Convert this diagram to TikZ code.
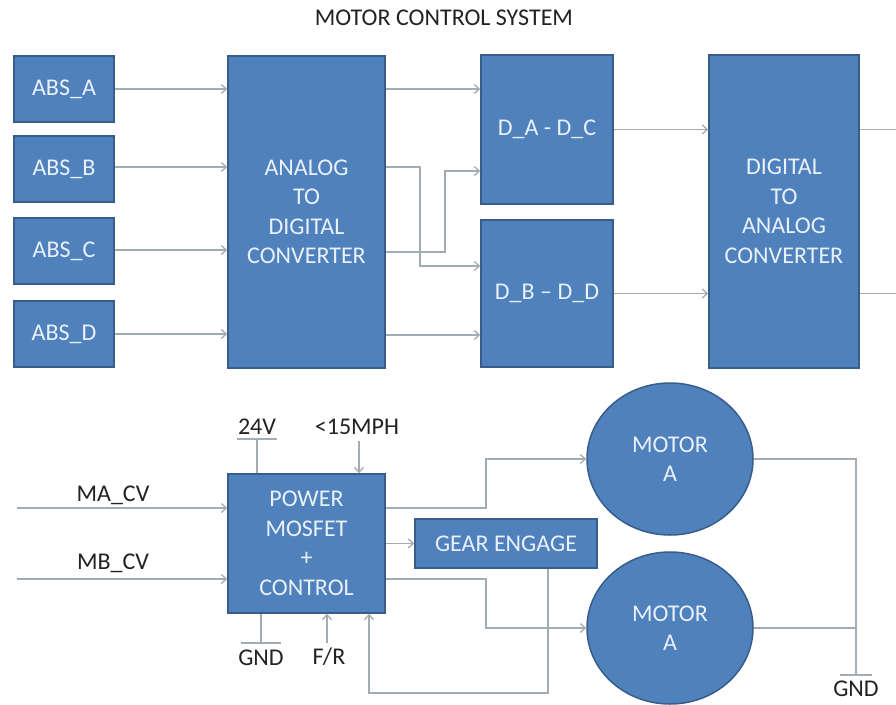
\documentclass[tikz,border=0pt]{standalone}
\usepackage{fontspec}
\setmainfont{Carlito}
\usetikzlibrary{arrows.meta,shapes.geometric}
\definecolor{boxfill}{HTML}{4F81BD}
\definecolor{boxline}{HTML}{385D8A}
\definecolor{boxtext}{HTML}{EAF1FB}
\definecolor{wire}{HTML}{A3ABB3}
\definecolor{labtext}{HTML}{222222}
\tikzset{
  blk/.style={draw=boxline, line width=1.5pt, fill=boxfill, text=boxtext, align=center,
    inner sep=0pt, font=\fontsize{24}{29.5}\selectfont},
  mot/.style={blk, ellipse, minimum width=166pt, minimum height=152pt},
  lab/.style={text=labtext, inner sep=0pt, font=\fontsize{24}{29}\selectfont},
  wireline/.style={draw=wire, line width=1.3pt},
  arr/.style={wireline, -{Straight Barb[length=5pt,width=9pt]}},
}
\begin{document}
\begin{tikzpicture}[x=1pt,y=-1pt]
\useasboundingbox[fill=white] (0,0) rectangle (896,704);
% title
\node[lab] (title) at (444,18) {MOTOR CONTROL SYSTEM};
% top row
\node[blk, minimum width=100pt, minimum height=66pt] (absA) at (64,89) {ABS\_A};
\node[blk, minimum width=100pt, minimum height=66pt] (absB) at (64,169) {ABS\_B};
\node[blk, minimum width=100pt, minimum height=66pt] (absC) at (64,251) {ABS\_C};
\node[blk, minimum width=100pt, minimum height=66pt] (absD) at (64,334) {ABS\_D};
\node[blk, minimum width=157pt, minimum height=312pt] (adc) at (306.5,212) {ANALOG\\TO\\DIGITAL\\CONVERTER};
\node[blk, minimum width=132pt, minimum height=149pt] (dac1) at (547,129.5) {D\_A - D\_C};
\node[blk, minimum width=132pt, minimum height=147pt] (dbd) at (547,293.5) {D\_B – D\_D};
\node[blk, minimum width=150pt, minimum height=313pt] (dac) at (784,211.5) {DIGITAL\\TO\\ANALOG\\CONVERTER};
% top connectors
\draw[arr] (absA.east) -- (absA.east -| adc.west);
\draw[arr] (absB.east |- 0,167) -- (adc.west |- 0,167);
\draw[arr] (absC.east |- 0,250) -- (adc.west |- 0,250);
\draw[arr] (absD.east) -- (absD.east -| adc.west);
\draw[arr] (adc.east |- 0,89) -- (dac1.west |- 0,89);
\coordinate (b1) at (420,167);
\coordinate (b2) at (445,252);
\draw[arr] (adc.east |- b1) -- (b1) |- (dbd.west |- 0,266);
\draw[arr] (adc.east |- b2) -- (b2) |- (dac1.west |- 0,171);
\draw[arr] (adc.east |- 0,335) -- (dbd.west |- 0,335);
\draw[arr] (dac1.east) -- (dac1.east -| dac.west);
\draw[arr] (dbd.east) -- (dbd.east -| dac.west);
\coordinate (o1) at (896,129.5);
\coordinate (o2) at (896,293.5);
\draw[wireline] (dac.east |- o1) -- (o1);
\draw[wireline] (dac.east |- o2) -- (o2);
% bottom part
\node[blk, minimum width=157pt, minimum height=139pt] (pm) at (306.5,543.5) {POWER\\MOSFET\\+\\CONTROL};
\node[blk, minimum width=182pt, minimum height=49pt] (gear) at (506,543.5) {GEAR ENGAGE};
\node[mot] (motA) at (670,459) {MOTOR\\A};
\node[mot] (motB) at (670,628) {MOTOR\\A};
% inputs
\node[lab] (macv) at (113,495) {MA\_CV};
\node[lab] (mbcv) at (113,563) {MB\_CV};
\coordinate (ina) at (17,508);
\coordinate (inb) at (17,579);
\draw[arr] (ina) -- (pm.west |- ina);
\draw[arr] (inb) -- (pm.west |- inb);
% 24V
\node[lab] (v24) at (257,427) {24V};
\coordinate (t24) at (257,439);
\draw[wireline] (237,439) -- (277,439);
\draw[wireline] (t24) -- (t24 |- pm.north);
% <15MPH
\node[lab] (mph) at (357,427) {<15MPH};
\coordinate (tmph) at (359,441);
\draw[arr] (tmph) -- (tmph |- pm.north);
% GND left
\coordinate (g1) at (261,643);
\draw[wireline] (g1 |- pm.south) -- (g1);
\draw[wireline] (241,643) -- (281,643);
\node[lab] (gndl) at (261,658) {GND};
% F/R
\coordinate (tfr) at (327,643);
\draw[arr] (tfr) -- (tfr |- pm.south);
\node[lab] (fr) at (329,657) {F/R};
% feedback from gear
\coordinate (fb1) at (548,693);
\coordinate (fb2) at (369,693);
\draw[arr] (gear.south -| fb1) -- (fb1) -- (fb2) -- (fb2 |- pm.south);
% power to gear and motors
\draw[arr] (pm.east) -- (gear.west);
\coordinate (ja) at (486,508);
\coordinate (jb) at (486,579);
\draw[arr] (pm.east |- ja) -- (ja) |- (motA.west);
\draw[arr] (pm.east |- jb) -- (jb) |- (motB.west);
% motors to GND
\coordinate (gr) at (856,675);
\draw[wireline] (motA.east) -| (gr);
\draw[wireline] (motB.east) -- (motB.east -| gr);
\draw[wireline] (840,675) -- (872,675);
\node[lab] (gndr) at (856,689) {GND};
\end{tikzpicture}
\end{document}
